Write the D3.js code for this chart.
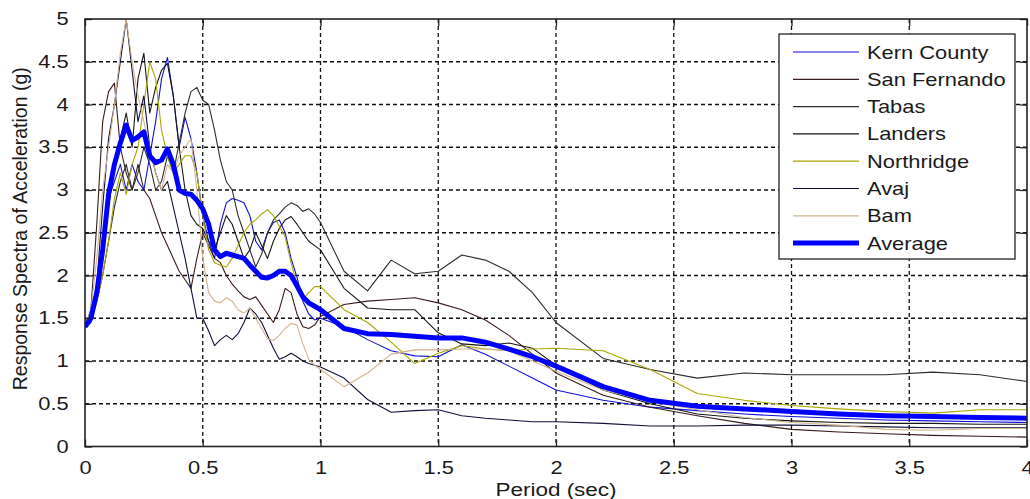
<!DOCTYPE html>
<html>
<head>
<meta charset="utf-8">
<script src="https://cdn.jsdelivr.net/npm/d3@7"></script>
<style>
  body { margin: 0; background: #fff; }
  text { font-family: "Liberation Sans", Arial, sans-serif; fill: #1a1a1a; }
</style>
</head>
<body>
<div id="chart"></div>
<script>
// period grid (sec) shared by every record
const periods = [0, .025, .05, .075, .1, .125, .15, .175, .2, .225, .25, .275, .3, .325, .35, .375, .4, .425, .45, .475,
  .5, .525, .55, .575, .6, .625, .65, .675, .7, .725, .75, .775, .8, .825, .85, .875, .9, .925, .95, .975,
  1.0, 1.1, 1.2, 1.3, 1.4, 1.5, 1.6, 1.7, 1.8, 1.9, 2.0, 2.2, 2.4, 2.6, 2.8, 3.0, 3.2, 3.4, 3.6, 3.8, 4.0];

const kernCounty = [1.4, 1.5, 1.9, 2.4, 2.9, 3.1, 3.3, 3.0, 3.3, 3.1, 3.0, 3.4, 3.8, 4.3, 4.55, 4.1, 3.5, 3.85, 3.6, 3.2,
  2.7, 2.4, 2.2, 2.6, 2.85, 2.9, 2.88, 2.85, 2.7, 2.4, 2.3, 2.5, 2.62, 2.65, 2.5, 2.2, 1.98, 1.7, 1.55, 1.48,
  1.5, 1.4, 1.25, 1.12, 1.06, 1.05, 1.19, 1.08, 0.94, 0.8, 0.66, 0.54, 0.46, 0.42, 0.38, 0.35, 0.33, 0.31, 0.3, 0.29, 0.28];

const sanFernando = [1.4, 1.6, 2.6, 3.8, 4.15, 4.25, 3.5, 3.2, 3.0, 3.3, 3.0, 2.9, 2.7, 2.5, 2.35, 2.2, 2.05, 1.95, 1.85, 2.2,
  2.5, 2.35, 2.2, 2.15, 2.0, 1.9, 1.82, 1.75, 1.72, 1.75, 1.65, 1.55, 1.45, 1.6, 1.85, 1.8, 1.55, 1.4, 1.38, 1.42,
  1.52, 1.66, 1.7, 1.72, 1.74, 1.68, 1.6, 1.48, 1.3, 1.08, 0.86, 0.6, 0.46, 0.36, 0.27, 0.2, 0.17, 0.15, 0.13, 0.12, 0.11];

const tabas = [1.4, 1.45, 1.7, 2.0, 2.4, 2.8, 3.1, 3.3, 3.0, 3.2, 3.5, 3.3, 3.0, 3.1, 3.4, 3.2, 3.55, 3.9, 4.15, 4.2,
  4.05, 4.0, 3.7, 3.35, 3.1, 3.0, 2.7, 2.5, 2.3, 2.1, 2.25, 2.5, 2.65, 2.72, 2.8, 2.85, 2.82, 2.75, 2.78, 2.72,
  2.62, 2.05, 1.82, 2.18, 2.02, 2.05, 2.24, 2.18, 2.05, 1.8, 1.45, 1.03, 0.9, 0.8, 0.86, 0.84, 0.84, 0.84, 0.87, 0.84, 0.76];

const landers = [1.4, 1.5, 1.8, 2.3, 2.8, 3.3, 3.6, 3.9, 3.5, 4.3, 4.6, 3.9, 4.2, 4.4, 4.48, 4.1, 3.5, 3.0, 2.7, 2.6,
  2.55, 2.4, 2.3, 2.5, 2.7, 2.6, 2.4, 2.2, 2.3, 2.5, 2.35, 2.2, 2.4, 2.55, 2.65, 2.69, 2.6, 2.5, 2.4, 2.35,
  2.3, 1.85, 1.62, 1.6, 1.6, 1.33, 1.2, 1.18, 1.21, 1.15, 0.95, 0.66, 0.5, 0.38, 0.33, 0.3, 0.28, 0.27, 0.27, 0.26, 0.26];

const northridge = [1.4, 1.5, 1.7, 2.0, 2.4, 2.9, 3.2, 2.95, 3.3, 3.5, 4.0, 4.5, 4.3, 3.7, 3.4, 3.2, 3.3, 3.4, 3.4, 3.2,
  2.7, 2.3, 2.15, 2.12, 2.1, 2.2, 2.35, 2.5, 2.6, 2.65, 2.72, 2.77, 2.7, 2.58, 2.45, 2.15, 1.9, 1.72, 1.8, 1.87,
  1.87, 1.6, 1.45, 1.22, 0.97, 1.09, 1.18, 1.14, 1.12, 1.14, 1.15, 1.12, 0.9, 0.62, 0.54, 0.48, 0.44, 0.41, 0.39, 0.43, 0.43];

const avaj = [1.4, 1.5, 1.9, 2.8, 3.6, 4.0, 4.5, 5.0, 4.4, 3.8, 4.1, 3.5, 3.2, 3.0, 3.1, 2.8, 2.5, 2.2, 1.85, 1.5,
  1.5, 1.35, 1.18, 1.25, 1.3, 1.25, 1.32, 1.45, 1.62, 1.55, 1.45, 1.3, 1.15, 1.02, 1.05, 1.09, 1.05, 1.0, 0.97, 0.95,
  0.93, 0.8, 0.55, 0.4, 0.42, 0.43, 0.36, 0.33, 0.31, 0.29, 0.29, 0.27, 0.24, 0.24, 0.25, 0.25, 0.24, 0.23, 0.22, 0.22, 0.22];

const bam = [1.4, 1.6, 2.2, 3.0, 3.5, 4.0, 4.6, 5.0, 4.5, 4.1, 3.8, 3.5, 3.2, 3.0, 3.3, 3.2, 3.4, 3.5, 3.6, 3.0,
  2.2, 1.8, 1.7, 1.68, 1.74, 1.7, 1.6, 1.56, 1.62, 1.5, 1.38, 1.26, 1.24, 1.3, 1.38, 1.44, 1.42, 1.2, 1.02, 0.95,
  0.9, 0.7, 0.86, 1.08, 1.13, 1.13, 1.14, 1.14, 1.12, 1.0, 0.88, 0.66, 0.53, 0.43, 0.34, 0.28, 0.25, 0.2, 0.19, 0.21, 0.21];

const average = [1.4, 1.5, 1.8, 2.3, 2.95, 3.3, 3.55, 3.76, 3.58, 3.62, 3.68, 3.4, 3.32, 3.35, 3.48, 3.3, 3.0, 2.96, 2.95, 2.88,
  2.78, 2.6, 2.3, 2.22, 2.26, 2.24, 2.22, 2.2, 2.12, 2.05, 1.98, 1.97, 2.0, 2.05, 2.05, 2.0, 1.88, 1.75, 1.68, 1.64,
  1.6, 1.38, 1.32, 1.31, 1.29, 1.27, 1.27, 1.22, 1.14, 1.05, 0.94, 0.7, 0.54, 0.47, 0.44, 0.41, 0.38, 0.36, 0.35, 0.34, 0.33];

const seriesNames = ["Kern County", "San Fernando", "Tabas", "Landers", "Northridge", "Avaj", "Bam", "Average"];
const seriesValues = [kernCounty, sanFernando, tabas, landers, northridge, avaj, bam, average];
const seriesColors = ["#1010d8", "#3a1c1c", "#2c2c2c", "#161616", "#a8a800", "#10103c", "#d2b48c", "#0000ff"];
const seriesWidths = [1.1, 1.1, 1.1, 1.1, 1.1, 1.1, 1.1, 5];

const xTicks = [0, 0.5, 1, 1.5, 2, 2.5, 3, 3.5, 4];
const yTicks = [0, 0.5, 1, 1.5, 2, 2.5, 3, 3.5, 4, 4.5, 5];

const width = 1030, height = 499;
const margin = {top: 19, right: 3, bottom: 52.5, left: 85};
const w = width - margin.left - margin.right;
const h = height - margin.top - margin.bottom;
const stretch = "scale(1.25,1)";

const svg = d3.select("#chart").append("svg")
  .attr("width", width)
  .attr("height", height);

const g = svg.append("g")
  .attr("transform", `translate(${margin.left},${margin.top})`);

const x = d3.scaleLinear().domain([0, 4]).range([0, w]);
const y = d3.scaleLinear().domain([0, 5]).range([h, 0]);

g.append("clipPath").attr("id", "clip")
  .append("rect").attr("width", w).attr("height", h);

// dashed grid
g.append("g").selectAll("line")
  .data(xTicks.slice(1, -1))
  .enter().append("line")
  .attr("x1", d => x(d)).attr("x2", d => x(d))
  .attr("y1", 0).attr("y2", h)
  .style("stroke", "#111").style("stroke-width", 1.3).style("stroke-dasharray", "4,3");

g.append("g").selectAll("line")
  .data(yTicks.slice(1, -1))
  .enter().append("line")
  .attr("x1", 0).attr("x2", w)
  .attr("y1", d => y(d)).attr("y2", d => y(d))
  .style("stroke", "#111").style("stroke-width", 1.3).style("stroke-dasharray", "4,3");

// response spectra
const line = d3.line()
  .x((d, i) => x(periods[i]))
  .y(d => y(d));

const curves = g.append("g").attr("clip-path", "url(#clip)");
seriesValues.forEach((vals, k) => {
  curves.append("path")
    .datum(vals)
    .attr("d", line)
    .style("fill", "none")
    .style("stroke", seriesColors[k])
    .style("stroke-width", seriesWidths[k])
    .style("stroke-linejoin", "round");
});

// axes, ticks pointing inwards like matlab
const xAxis = g.append("g")
  .attr("transform", `translate(0,${h})`)
  .call(d3.axisBottom(x).tickValues(xTicks).tickSize(-7).tickPadding(15).tickFormat(d3.format("")));
const yAxis = g.append("g")
  .call(d3.axisLeft(y).tickValues(yTicks).tickSize(-7).tickPadding(13).tickFormat(d3.format("")));
g.append("g")
  .call(d3.axisTop(x).tickValues(xTicks).tickSize(-7).tickFormat(""));
g.append("g")
  .attr("transform", `translate(${w},0)`)
  .call(d3.axisRight(y).tickValues(yTicks).tickSize(-7).tickFormat(""));

g.selectAll(".domain").remove();
g.selectAll(".tick line").style("stroke", "#222").style("stroke-width", 1.3);
[xAxis, yAxis].forEach(a => a.selectAll("text")
  .style("font-size", "17.5px")
  .style("font-family", "'Liberation Sans', Arial, sans-serif")
  .style("fill", "#1a1a1a")
  .attr("transform", stretch));

g.append("rect")
  .attr("width", w).attr("height", h)
  .style("fill", "none").style("stroke", "#222").style("stroke-width", 1.6);

// axis titles
svg.append("text")
  .attr("transform", `translate(${margin.left + w / 2}, 496) ${stretch}`)
  .style("text-anchor", "middle")
  .style("font-size", "18px")
  .text("Period (sec)");

svg.append("text")
  .attr("transform", `translate(27, ${margin.top + h / 2 - 4}) rotate(-90)`)
  .style("text-anchor", "middle")
  .style("font-size", "19.5px")
  .text("Response Spectra of Acceleration (g)");

// legend
const legend = svg.append("g").attr("transform", "translate(779,34)");
legend.append("rect")
  .attr("width", 236).attr("height", 225)
  .style("fill", "#fff").style("stroke", "#222").style("stroke-width", 1.3);

seriesNames.forEach((name, k) => {
  const ly = 18 + k * 27.3;
  legend.append("line")
    .attr("x1", 14).attr("x2", 80)
    .attr("y1", ly).attr("y2", ly)
    .style("stroke", seriesColors[k])
    .style("stroke-width", k === 7 ? 5 : 1.2);
  legend.append("text")
    .attr("transform", `translate(88, ${ly + 6.5}) ${stretch}`)
    .style("font-size", "17.5px")
    .text(name);
});
</script>
</body>
</html>
